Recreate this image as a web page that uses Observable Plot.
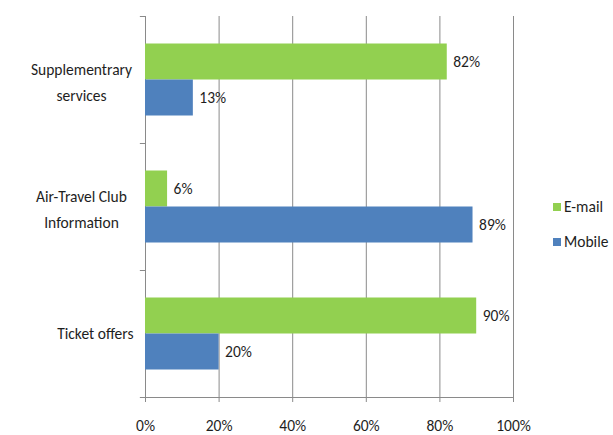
<!DOCTYPE html>
<html>
<head>
<meta charset="utf-8">
<script src="https://cdn.jsdelivr.net/npm/d3@7"></script>
<script src="https://cdn.jsdelivr.net/npm/@observablehq/plot@0.6"></script>
<style>
  html, body { margin: 0; padding: 0; background: #fff; }
  #wrap { position: relative; width: 613px; height: 435px; font-family: Carlito, "Liberation Sans Narrow", "DejaVu Sans Condensed", sans-serif; color: #1e1e1e; }
  #legend { position: absolute; left: 553px; top: 189px; font-size: 15.5px; }
  .item { display: flex; align-items: center; height: 35px; }
  .sw { width: 8px; height: 8px; margin-right: 3px; }
</style>
</head>
<body>
<div id="wrap"><div id="chart"></div><div id="legend"></div></div>
<script>
const categories = ["Supplementrary services", "Air-Travel Club Information", "Ticket offers"];
const categoryLines = [["Supplementrary", "services"], ["Air-Travel Club", "Information"], ["Ticket offers"]];
const series = ["E-mail", "Mobile"];
const emailValues = [82, 6, 90];
const mobileValues = [13, 89, 20];
const xTicks = [0, 20, 40, 60, 80, 100];
const colors = ["#92D050", "#4F81BD"];

const emailData = categories.map((c, i) => ({category: c, value: emailValues[i]}));
const mobileData = categories.map((c, i) => ({category: c, value: mobileValues[i]}));
const labelData = categories.map((c, i) => ({category: c, lines: categoryLines[i]}));
const multi = labelData.filter(d => d.lines.length > 1).map(d => ({...d, text: d.lines.join("\n")}));
const single = labelData.filter(d => d.lines.length === 1).map(d => ({...d, text: d.lines[0]}));

const band = 127;     // band step in px
const barH = 36;
const half = band / 2;
const gray = "#8a8a8a";
const ink = "#1e1e1e";

const boundaries = categories.map(c => ({category: c, dy: -half}))
  .concat([{category: categories[categories.length - 1], dy: half}]);

const plot = Plot.plot({
  width: 613,
  height: 435,
  marginLeft: 145,
  marginRight: 100,
  marginTop: 16,
  marginBottom: 38,
  style: {fontFamily: 'Carlito, "Liberation Sans Narrow", "DejaVu Sans Condensed", sans-serif', fontSize: "15.5px", color: ink, background: "#fff"},
  x: {domain: [0, 100]},
  y: {domain: categories, padding: 0},
  marks: [
    Plot.gridX(xTicks, {stroke: gray, strokeOpacity: 1}),
    Plot.barX(emailData, {x: "value", y: "category", fill: colors[0], insetTop: half - barH, insetBottom: half}),
    Plot.barX(mobileData, {x: "value", y: "category", fill: colors[1], insetTop: half, insetBottom: half - barH}),
    Plot.text(emailData, {x: "value", y: "category", text: d => d.value + "%", dx: 6, dy: -barH / 2, textAnchor: "start", fill: ink}),
    Plot.text(mobileData, {x: "value", y: "category", text: d => d.value + "%", dx: 6, dy: barH / 2, textAnchor: "start", fill: ink}),
    Plot.text(multi, {y: "category", text: "text", frameAnchor: "left", dx: -64, textAnchor: "middle", lineHeight: 1.62, fill: ink}),
    Plot.text(single, {y: "category", text: "text", frameAnchor: "left", dx: -12, textAnchor: "end", fill: ink}),
    Plot.ruleY(boundaries.filter(d => d.dy < 0), {y: "category", x1: -1.4, x2: 0, dy: -half, stroke: gray}),
    Plot.ruleY(boundaries.filter(d => d.dy > 0), {y: "category", x1: -1.4, x2: 100, dy: half, stroke: gray}),
    Plot.axisX(xTicks, {tickFormat: d => d + "%", tickSize: 5, tickPadding: 17, stroke: gray, fill: ink, label: null}),
    Plot.axisY({ticks: [], label: null})
  ]
});
document.getElementById("chart").appendChild(plot);

const legend = document.getElementById("legend");
series.forEach((s, i) => {
  const item = document.createElement("div");
  item.className = "item";
  const sw = document.createElement("span");
  sw.className = "sw";
  sw.style.background = colors[i];
  const t = document.createElement("span");
  t.textContent = s;
  item.appendChild(sw);
  item.appendChild(t);
  legend.appendChild(item);
});
</script>
</body>
</html>
